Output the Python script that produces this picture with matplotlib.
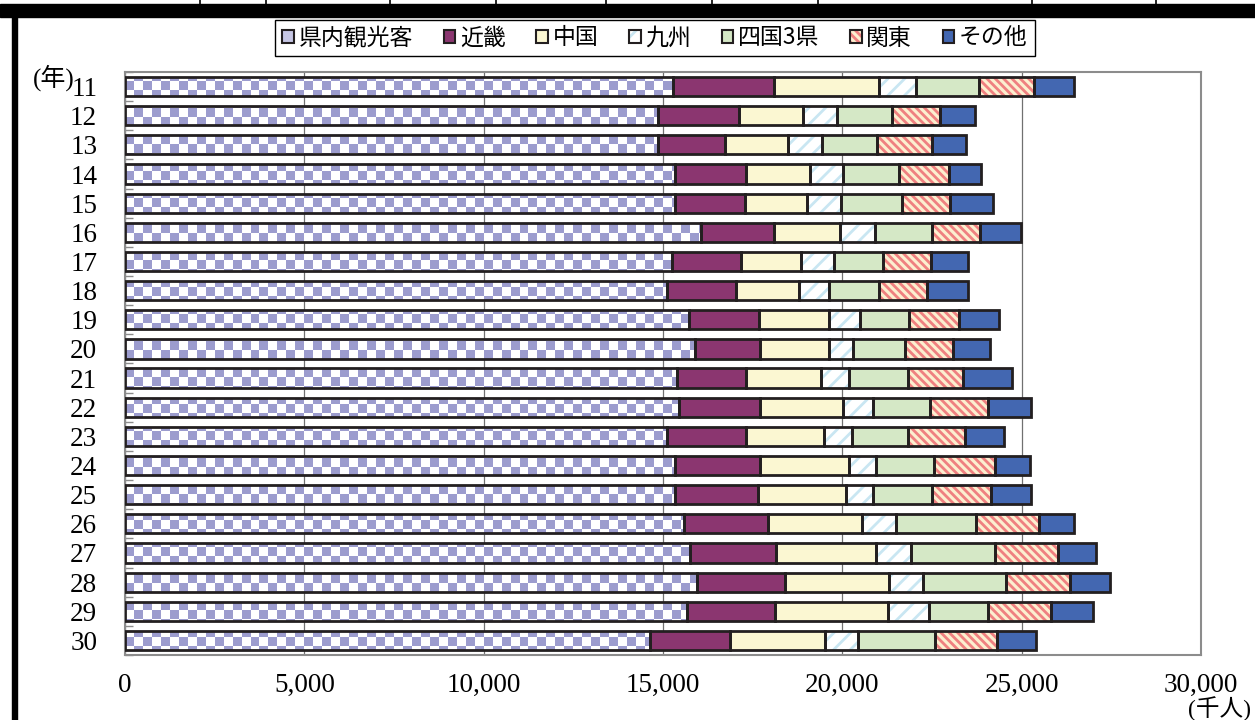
import numpy as np
import matplotlib
matplotlib.use('Agg')
import matplotlib.pyplot as plt
from matplotlib.patches import Patch, Rectangle
from matplotlib.lines import Line2D
from matplotlib.path import Path
from matplotlib.colors import ListedColormap

# 年（平成）
years = ['11', '12', '13', '14', '15', '16', '17', '18', '19', '20',
         '21', '22', '23', '24', '25', '26', '27', '28', '29', '30']

# 入込客数（千人）
kennai = [15280, 14860, 14860, 15335, 15345, 16070, 15250, 15120, 15725, 15900,
          15390, 15445, 15110, 15325, 15345, 15575, 15760, 15945, 15670, 14630]
kinki = [2805, 2255, 1860, 1990, 1930, 2025, 1930, 1920, 1950, 1810,
         1915, 2265, 2210, 2370, 2300, 2340, 2395, 2470, 2440, 2245]
chugoku = [2935, 1800, 1765, 1765, 1745, 1850, 1670, 1745, 1950, 1905,
           2105, 2320, 2180, 2490, 2460, 2635, 2785, 2880, 3175, 2655]
kyushu = [1020, 930, 945, 940, 945, 975, 930, 855, 855, 680,
          770, 820, 770, 760, 760, 945, 975, 965, 1120, 900]
shikoku = [1765, 1530, 1545, 1550, 1690, 1580, 1345, 1375, 1375, 1455,
           1660, 1595, 1570, 1605, 1635, 2230, 2340, 2305, 1645, 2165]
kanto = [1525, 1355, 1520, 1390, 1355, 1345, 1345, 1345, 1385, 1330,
         1530, 1625, 1590, 1710, 1645, 1765, 1745, 1785, 1765, 1710]
sonota = [1140, 975, 960, 905, 1180, 1140, 1020, 1135, 1115, 1050,
          1355, 1190, 1085, 975, 1115, 975, 1070, 1115, 1180, 1095]

labels = ['県内観光客', '近畿', '中国', '九州', '四国3県', '関東', 'その他']
xticks = [0, 5000, 10000, 15000, 20000, 25000, 30000]

# (face, hatch, hatch colour) for each region
styles = [
    ('white', None, 'white'),
    ('#8b3670', None, '#8b3670'),
    ('#fbf7d2', None, '#fbf7d2'),
    ('white', '//', '#c9e6f2'),
    ('#d5e8c6', None, '#d5e8c6'),
    ('#fcefcf', '\\\\\\\\', '#ef8080'),
    ('#4367b1', None, '#4367b1'),
]

plt.rcParams['hatch.linewidth'] = 2.0
serif = ['Liberation Serif', 'Noto Sans CJK JP']
cjk = ['Noto Sans CJK JP', 'DejaVu Sans']
edge = '#231f20'

fig = plt.figure(figsize=(12.55, 7.2), dpi=100)
ax = fig.add_axes([125 / 1255, 65 / 720, 1076 / 1255, 583 / 720])

y = np.arange(len(years))
h = 0.66
left = np.zeros(len(years))
bars_first = None
for vals, (face, hatch, hcol) in zip([kennai, kinki, chugoku, kyushu, shikoku, kanto, sonota], styles):
    b = ax.barh(y, vals, left=left, height=h, color=face, hatch=hatch,
                edgecolor=hcol, linewidth=0, zorder=2)
    ax.barh(y, vals, left=left, height=h, fill=False, edgecolor=edge,
            linewidth=2.0, zorder=4)
    if bars_first is None:
        bars_first = b
    left += np.array(vals)

# checker texture for 県内観光客
paths = [p.get_path().transformed(p.get_patch_transform()) for p in bars_first]
clip = Path.make_compound_path(*paths)
ii, jj = np.indices((65, 120))
checker = (ii + jj) % 2
img = ax.imshow(checker, cmap=ListedColormap(['white', '#9c9cce']), extent=[0, 1, 0, 1],
                transform=ax.transAxes, aspect='auto', interpolation='nearest', zorder=3)
img.set_clip_path(clip, ax.transData)

ax.set_xlim(0, 30000)
ax.set_ylim(len(years) - 0.5, -0.5)
ax.set_xticks(xticks)
ax.set_xticklabels([f'{v:,}' for v in xticks], family=serif, fontsize=19.5)
ax.set_yticks(y)
ax.set_yticklabels(years, family=serif, fontsize=19.5)
ax.set_yticks(np.arange(-0.5, len(years), 1), minor=True)
ax.tick_params(axis='x', length=0, pad=13)
ax.tick_params(axis='y', which='major', length=0, pad=20)
ax.tick_params(axis='y', which='minor', direction='in', length=6, color='#8c8c8c', width=1)
ax.xaxis.grid(True, color='#707070', linewidth=0.9)
ax.set_axisbelow(True)
for s in ax.spines.values():
    s.set_color('#8c8c8c')
    s.set_linewidth(1.5)

handles = [(Patch(facecolor=f, hatch=ht, edgecolor=hc, linewidth=0),
            Patch(fill=False, edgecolor=edge, linewidth=1.5)) for f, ht, hc in styles]
handles[0] = (Patch(facecolor='#c6c6e4', linewidth=0), Patch(fill=False, edgecolor=edge, linewidth=1.5))
leg = fig.legend(handles, labels, loc='center', bbox_to_anchor=(655 / 1255, 1 - 38 / 720), ncol=7,
                 prop={'family': cjk, 'size': 16.5}, handlelength=0.5, handleheight=0.5,
                 handletextpad=0.2, columnspacing=1.35, borderpad=0.3, fancybox=False,
                 framealpha=1, edgecolor='black')
leg.get_frame().set_linewidth(1.0)

fig.text(33 / 1255, 1 - 78 / 720, '(年)', family=serif, fontsize=18, ha='left', va='center')
fig.text(1251 / 1255, 1 - 709 / 720, '(千人)', family=serif, fontsize=17, ha='right', va='center')

# page frame remnants
fig.add_artist(Rectangle((0, 1 - 17 / 720), 1, 13 / 720, transform=fig.transFigure, color='black'))
fig.add_artist(Rectangle((12 / 1255, 0), 5 / 1255, 1 - 16 / 720, transform=fig.transFigure, color='black'))
for xp in [200, 266, 390, 496, 606, 712, 818, 1032, 1156]:
    fig.add_artist(Line2D([xp / 1255, xp / 1255], [1 - 5 / 720, 1], transform=fig.transFigure,
                          color='black', linewidth=1.2))

fig.savefig('out.png', dpi=100)
